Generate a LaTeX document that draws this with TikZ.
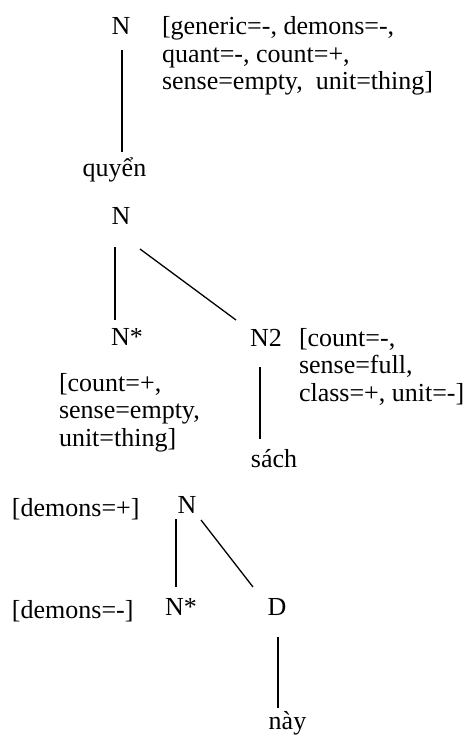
\documentclass[tikz,border=0pt]{standalone}
\usepackage{fontspec}
\setmainfont{Liberation Serif}
\begin{document}
\begin{tikzpicture}[x=1pt,y=-1pt,
  txt/.style={inner sep=0pt,outer sep=0pt,font=\fontsize{26}{27.5}\selectfont,anchor=base},
  lbl/.style={txt,anchor=base west},
  edge/.style={line width=1.3pt,line cap=butt}]
\useasboundingbox (0,0) rectangle (468,735);
% tree 1
\node[txt] (N1) at (121,35) {N};
\node[lbl] (L1) at (162,35) {\vtop{\hbox{[generic=-, demons=-,}\hbox{quant=-, count=+,}\hbox{sense=empty,~ unit=thing]}}};
\node[txt] (quyen) at (114.5,177) {quyển};
\draw[edge] ([shift={(1,15)}]N1.base) -- ([shift={(7.5,-25)}]quyen.base);
% tree 2
\node[txt] (Nb) at (121,225) {N};
\node[txt] (Ns1) at (127,345) {N*};
\node[txt] (N2) at (266,346) {N2};
\node[lbl] (L2) at (299,346) {\vtop{\hbox{[count=-,}\hbox{sense=full,}\hbox{class=+, unit=-]}}};
\node[lbl] (L3) at (59,391) {\vtop{\hbox{[count=+,}\hbox{sense=empty,}\hbox{unit=thing]}}};
\node[txt] (sach) at (274,467) {sách};
\draw[edge] ([shift={(-6,22)}]Nb.base) -- ([shift={(-12,-25)}]Ns1.base);
\draw[edge] ([shift={(19,24)}]Nb.base) -- ([shift={(-30,-26)}]N2.base);
\draw[edge] ([shift={(-6,21)}]N2.base) -- ([shift={(-14,-28)}]sach.base);
% tree 3
\node[lbl] (L4) at (12,516) {[demons=+]};
\node[txt] (Nc) at (187,513) {N};
\node[txt] (Ns2) at (181,615) {N*};
\node[txt] (D) at (277,615) {D};
\node[lbl] (L5) at (12,618) {[demons=-]};
\node[txt] (nay) at (287.5,729) {này};
\draw[edge] ([shift={(-11,6)}]Nc.base) -- ([shift={(-5,-28)}]Ns2.base);
\draw[edge] ([shift={(14,7)}]Nc.base) -- ([shift={(-24,-28)}]D.base);
\draw[edge] ([shift={(1,22)}]D.base) -- ([shift={(-9.5,-21)}]nay.base);
\end{tikzpicture}
\end{document}
